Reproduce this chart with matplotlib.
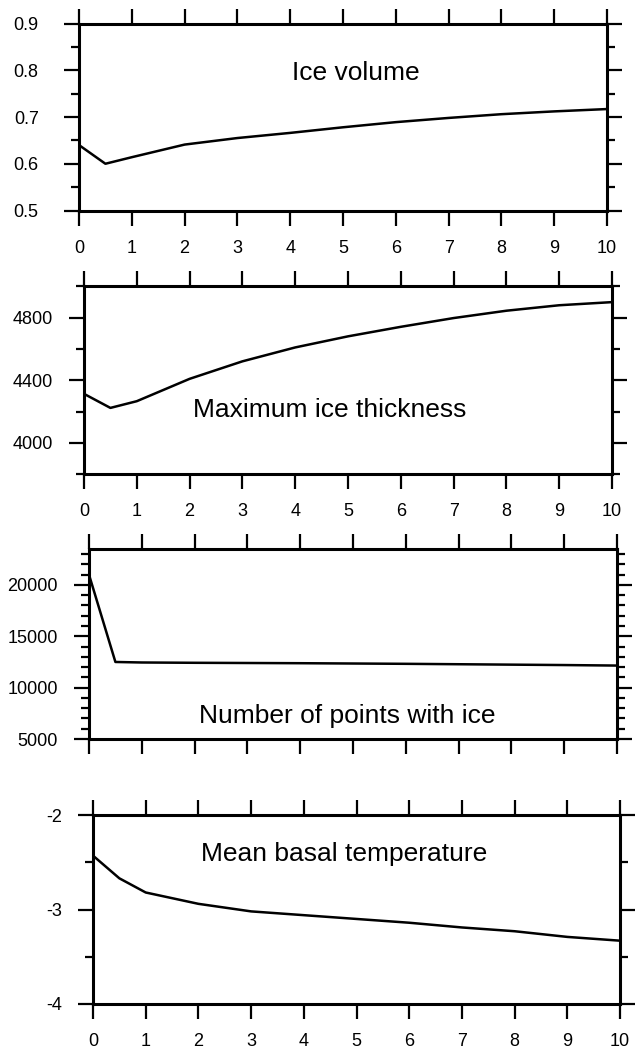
import matplotlib
matplotlib.use("Agg")
import matplotlib.pyplot as plt
from matplotlib.ticker import MultipleLocator, FormatStrFormatter

plt.rcParams.update({
    "font.family": ["Liberation Sans", "DejaVu Sans"],
    "axes.unicode_minus": False,
})

# model time axis, shared by all four panels
time = [0, 0.5, 1, 2, 3, 4, 5, 6, 7, 8, 9, 10]

ice_volume = [0.640, 0.600, 0.614, 0.641, 0.655, 0.666, 0.678, 0.689, 0.698, 0.706, 0.712, 0.717]
max_thickness = [4313, 4223, 4266, 4409, 4521, 4610, 4681, 4742, 4798, 4845, 4880, 4900]
ice_points = [21000, 12500, 12450, 12420, 12400, 12380, 12350, 12320, 12280, 12240, 12200, 12150]
basal_temp = [-2.43, -2.67, -2.82, -2.94, -3.02, -3.06, -3.10, -3.14, -3.19, -3.23, -3.29, -3.33]

titles = ["Ice volume", "Maximum ice thickness", "Number of points with ice", "Mean basal temperature"]
title_pos = [(5.25, 0.795), (4.65, 4210), (4.9, 7200), (4.77, -2.41)]

W, H = 635, 1056
fig = plt.figure(figsize=(W / 100, H / 100), dpi=100)

panels = [
    # values, ylim, major, minor, frame (x0, x1, top, bottom in px), ylabel pad, x labels
    (ice_volume, (0.5, 0.9), 0.1, 0.05, (79, 607, 23.5, 210.5), 18, True),
    (max_thickness, (3800, 5000), 400, 200, (84, 612, 286.5, 474), 11.5, True),
    (ice_points, (5000, 23500), 5000, 1000, (89, 617, 549, 739), 11.5, False),
    (basal_temp, (-4, -2), 1, 0.5, (93, 620, 815, 1004), 11, True),
]

for i, (vals, ylim, major, minor, box, ypad, xlabels) in enumerate(panels):
    x0, x1, top, bottom = box
    ax = fig.add_axes([x0 / W, 1 - bottom / H, (x1 - x0) / W, (bottom - top) / H])
    ax.plot(time, vals, color="black", lw=1.8)
    ax.set_xlim(0, 10)
    ax.set_ylim(*ylim)

    for sp in ax.spines.values():
        sp.set_linewidth(2.2)

    ax.xaxis.set_major_locator(MultipleLocator(1))
    ax.yaxis.set_major_locator(MultipleLocator(major))
    ax.yaxis.set_minor_locator(MultipleLocator(minor))
    ax.yaxis.set_major_formatter(FormatStrFormatter("%g"))

    ax.tick_params(axis="x", which="major", direction="out", top=True, bottom=True,
                   labeltop=False, labelbottom=xlabels, length=11, width=1.6,
                   pad=10, labelsize=13)
    ax.tick_params(axis="y", which="major", direction="out", left=True, right=True,
                   length=11, width=1.6, pad=ypad, labelsize=13)
    ax.tick_params(axis="y", which="minor", direction="out", left=True, right=True,
                   length=5.5, width=1.6)

    tx, ty = title_pos[i]
    ax.text(tx, ty, titles[i], ha="center", va="center", fontsize=19)

fig.savefig("out.png", dpi=100)
